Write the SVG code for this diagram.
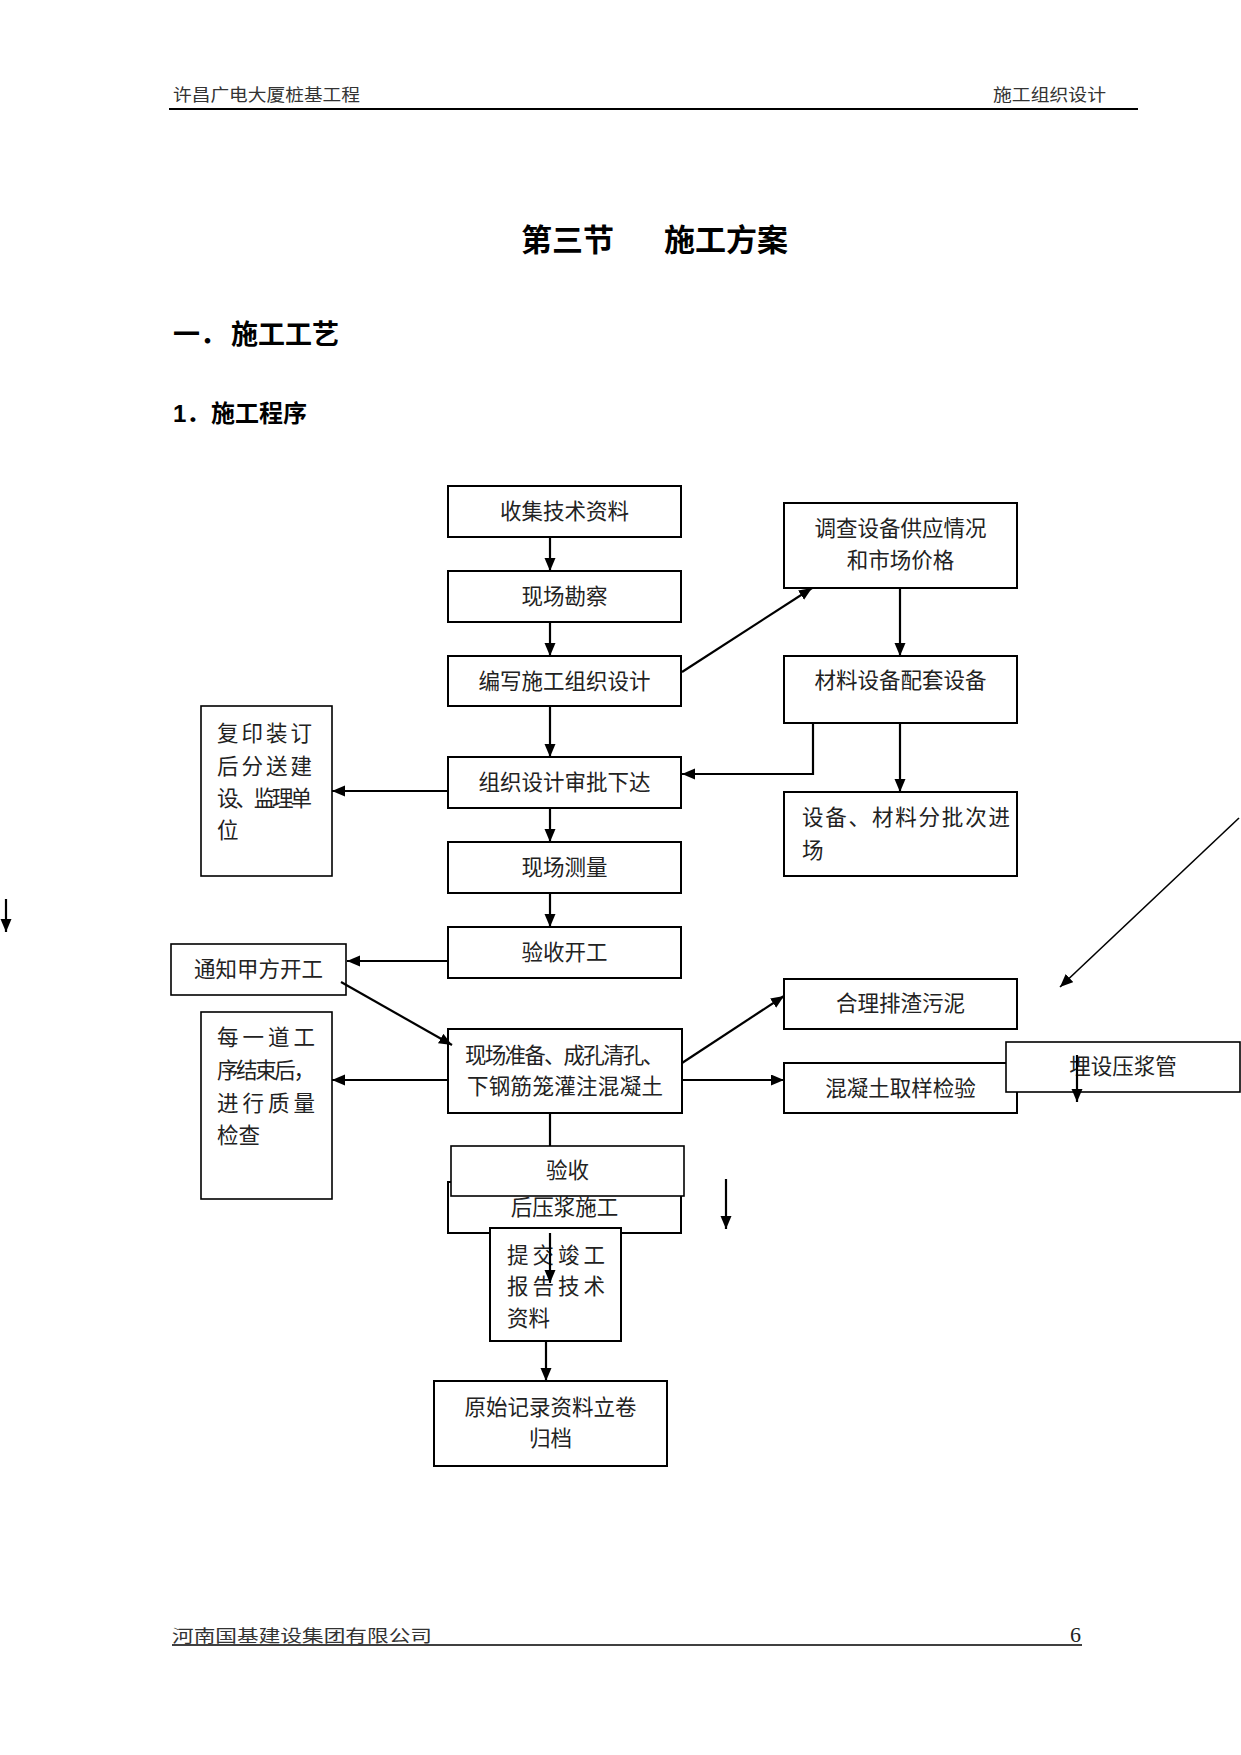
<svg xmlns="http://www.w3.org/2000/svg" width="1241" height="1755" viewBox="0 0 1241 1755">
<style>
.bx{fill:#fff;stroke:#000;stroke-width:2}
.t{font-family:"Liberation Serif","Noto Sans CJK SC",serif;font-size:21.5px;fill:#222}
.c{text-anchor:middle}
.hd{font-family:"Liberation Serif","Noto Sans CJK SC",serif;font-size:17px;fill:#333}
.h{font-family:"Liberation Sans","Noto Sans CJK SC",sans-serif;font-weight:700;fill:#000}
.ln{stroke:#000;stroke-width:2.2;fill:none}
.ar{marker-end:url(#ah)}
</style>
<defs>
<marker id="ah" markerUnits="userSpaceOnUse" markerWidth="14" markerHeight="12" refX="13" refY="5.5" orient="auto">
<path d="M0,0 L13,5.5 L0,11 z" fill="#000"/>
</marker>
</defs>
<rect width="1241" height="1755" fill="#fff"/>
<g id="header">
<text class="hd" x="173" y="101" textLength="187" lengthAdjust="spacingAndGlyphs">许昌广电大厦桩基工程</text>
<text class="hd" x="993" y="101" textLength="113" lengthAdjust="spacingAndGlyphs">施工组织设计</text>
<line x1="169" y1="109" x2="1138" y2="109" stroke="#000" stroke-width="2"/>
</g>
<g id="titles">
<text class="h" x="521" y="251" font-size="31">第三节</text>
<text class="h" x="664" y="251" font-size="31">施工方案</text>
<text class="h" x="173" y="344" font-size="27">一．</text>
<text class="h" x="231" y="344" font-size="27">施工工艺</text>
<text class="h" x="173" y="422" font-size="24">1．</text>
<text class="h" x="211" y="422" font-size="24">施工程序</text>
</g>
<g id="n1"><rect class="bx" x="448" y="486" width="233" height="51"/><text class="t c" x="564.5" y="519">收集技术资料</text></g>
<g id="n2"><rect class="bx" x="448" y="571" width="233" height="51"/><text class="t c" x="564.5" y="604">现场勘察</text></g>
<g id="n3"><rect class="bx" x="448" y="656" width="233" height="50"/><text class="t c" x="564.5" y="689">编写施工组织设计</text></g>
<g id="n4"><rect class="bx" x="448" y="757" width="233" height="51"/><text class="t c" x="564.5" y="790">组织设计审批下达</text></g>
<g id="n5"><rect class="bx" x="448" y="842" width="233" height="51"/><text class="t c" x="564.5" y="875">现场测量</text></g>
<g id="n6"><rect class="bx" x="448" y="927" width="233" height="51"/><text class="t c" x="564.5" y="960">验收开工</text></g>
<g id="n7"><rect class="bx" x="784" y="503" width="233" height="85"/><text class="t c" x="900.5" y="536">调查设备供应情况</text><text class="t c" x="900.5" y="568">和市场价格</text></g>
<g id="n8"><rect class="bx" x="784" y="656" width="233" height="67"/><text class="t c" x="900.5" y="688">材料设备配套设备</text></g>
<g id="n9"><rect class="bx" x="784" y="792" width="233" height="84"/><text class="t" x="802" y="825" textLength="208" lengthAdjust="spacing">设备、材料分批次进</text><text class="t" x="802" y="858">场</text></g>
<g id="n10"><rect class="bx" x="201" y="706" width="131" height="170" style="stroke-width:1.6"/>
<text class="t" x="217" y="741" textLength="95" lengthAdjust="spacing">复印装订</text>
<text class="t" x="217" y="774" textLength="95" lengthAdjust="spacing">后分送建</text>
<text class="t" x="217" y="806" textLength="95" lengthAdjust="spacing">设、监理单</text>
<text class="t" x="217" y="838">位</text></g>
<g id="n11"><rect class="bx" x="171" y="944" width="175" height="51" style="stroke-width:1.6"/><text class="t c" x="258.5" y="977">通知甲方开工</text></g>
<g id="n12"><rect class="bx" x="448" y="1029" width="234" height="84"/>
<text class="t" x="465" y="1063" textLength="199" lengthAdjust="spacing">现场准备、成孔清孔、</text>
<text class="t" x="467" y="1094" textLength="196" lengthAdjust="spacing">下钢筋笼灌注混凝土</text></g>
<g id="n13"><rect class="bx" x="784" y="979" width="233" height="50"/><text class="t c" x="900.5" y="1011">合理排渣污泥</text></g>
<g id="n14"><rect class="bx" x="784" y="1063" width="233" height="50"/><text class="t c" x="900.5" y="1096">混凝土取样检验</text></g>
<g id="n15"><rect class="bx" x="1006" y="1042" width="234" height="50" style="stroke-width:1.6"/><text class="t c" x="1123" y="1074">埋设压浆管</text></g>
<g id="n16"><rect class="bx" x="201" y="1012" width="131" height="187" style="stroke-width:1.6"/>
<text class="t" x="217" y="1045" textLength="98" lengthAdjust="spacing">每一道工</text>
<text class="t" x="217" y="1078" textLength="98" lengthAdjust="spacing">序结束后，</text>
<text class="t" x="217" y="1111" textLength="98" lengthAdjust="spacing">进行质量</text>
<text class="t" x="217" y="1143">检查</text></g>
<g id="n18"><rect class="bx" x="448" y="1182" width="233" height="51"/><text class="t c" x="564.5" y="1215">后压浆施工</text></g>
<g id="n17"><rect class="bx" x="451" y="1146" width="233" height="50" style="stroke-width:1.6"/><text class="t c" x="567.5" y="1178">验收</text></g>
<g id="n19"><rect class="bx" x="490" y="1228" width="131" height="113"/>
<text class="t" x="507" y="1263" textLength="98" lengthAdjust="spacing">提交竣工</text>
<text class="t" x="507" y="1294" textLength="98" lengthAdjust="spacing">报告技术</text>
<text class="t" x="507" y="1326">资料</text></g>
<g id="n20"><rect class="bx" x="434" y="1381" width="233" height="85"/><text class="t c" x="550.5" y="1415">原始记录资料立卷</text><text class="t c" x="550.5" y="1446">归档</text></g>
<g id="footer">
<text class="hd" x="172" y="1642" font-size="19" textLength="260" lengthAdjust="spacingAndGlyphs">河南国基建设集团有限公司</text>
<text x="1070" y="1642" font-family="Liberation Serif,serif" font-size="22" fill="#222">6</text>
<line x1="172" y1="1645" x2="1082" y2="1645" stroke="#000" stroke-width="1.5"/>
</g>
<g id="connectors">
<line class="ln ar" x1="550" y1="537" x2="550" y2="571"/>
<line class="ln ar" x1="550" y1="622" x2="550" y2="656"/>
<line class="ln ar" x1="550" y1="706" x2="550" y2="757"/>
<line class="ln ar" x1="550" y1="808" x2="550" y2="842"/>
<line class="ln ar" x1="550" y1="893" x2="550" y2="927"/>
<line class="ln ar" x1="682" y1="672" x2="812" y2="588"/>
<line class="ln ar" x1="900" y1="588" x2="900" y2="656"/>
<polyline class="ln ar" points="813,723 813,774 682,774"/>
<line class="ln ar" x1="900" y1="723" x2="900" y2="792"/>
<line class="ln ar" x1="448" y1="791" x2="332" y2="791"/>
<line class="ln ar" x1="448" y1="961" x2="347" y2="961"/>
<line class="ln ar" x1="341" y1="982" x2="452" y2="1045"/>
<line class="ln ar" x1="682" y1="1063" x2="784" y2="996"/>
<line class="ln ar" x1="682" y1="1080" x2="784" y2="1080"/>
<line class="ln ar" x1="448" y1="1080" x2="332" y2="1080"/>
<line class="ln" x1="550" y1="1114" x2="550" y2="1146"/>
<line class="ln ar" x1="550" y1="1233" x2="550" y2="1283"/>
<line class="ln ar" x1="546" y1="1341" x2="546" y2="1381"/>
<line class="ln ar" x1="6" y1="899" x2="6" y2="932"/>
<line class="ln ar" x1="1239" y1="818" x2="1060" y2="987" style="stroke-width:1.6"/>
<line class="ln ar" x1="1077" y1="1055" x2="1077" y2="1102"/>
<line class="ln ar" x1="726" y1="1179" x2="726" y2="1229"/>
</g>
</svg>
